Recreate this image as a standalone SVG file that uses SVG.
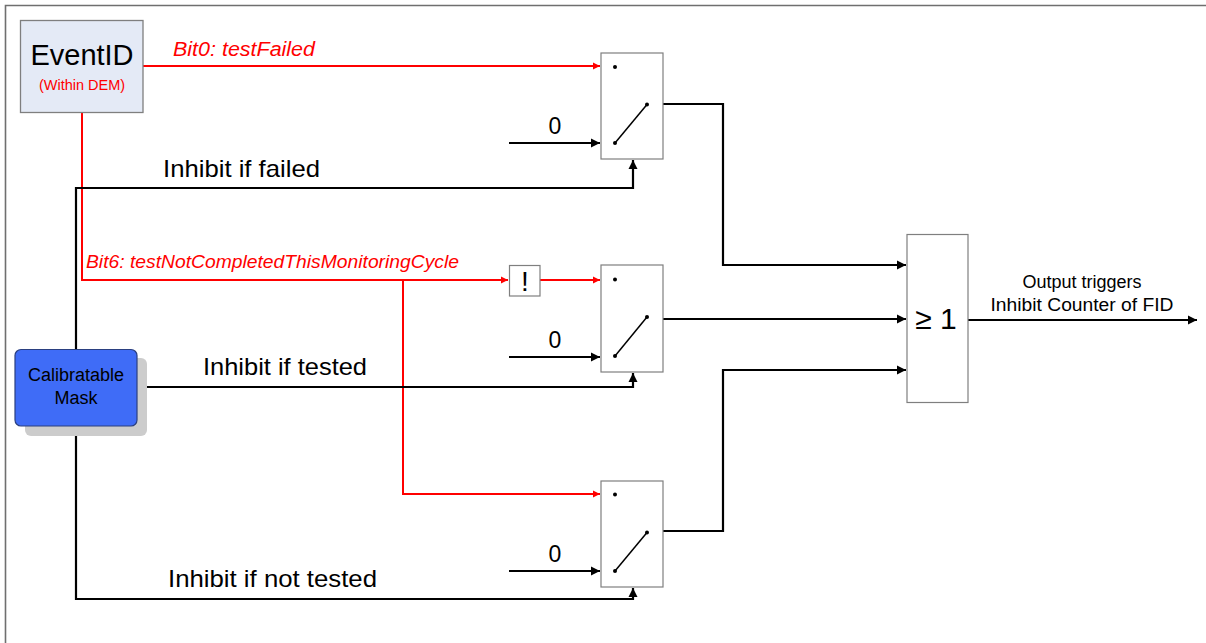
<svg xmlns="http://www.w3.org/2000/svg" width="1206" height="643" viewBox="0 0 1206 643">
<style>
text{font-family:"Liberation Sans",Arial,sans-serif;}
.blk{fill:none;stroke:#000;stroke-width:2.2;}
.red{fill:none;stroke:#ff0000;stroke-width:2;}
.box{fill:#fff;stroke:#7f7f7f;stroke-width:1.2;}
.sw{stroke:#000;stroke-width:1.5;}
.lbl{font-size:24px;fill:#000;}
.rl{font-size:18.5px;fill:#ff0000;font-style:italic;}
.zero{font-size:23px;fill:#000;text-anchor:middle;}
</style>
<defs>
<marker id="ab" markerUnits="userSpaceOnUse" markerWidth="10" markerHeight="10" refX="9" refY="5" orient="auto">
<path d="M0,0.5 L9,5 L0,9.5 z" fill="#000"/>
</marker>
<marker id="ar" markerUnits="userSpaceOnUse" markerWidth="8" markerHeight="8" refX="7" refY="4" orient="auto">
<path d="M0,0.5 L7,4 L0,7.5 z" fill="#ff0000"/>
</marker>
</defs>
<rect width="1206" height="643" fill="#fff"/>
<path d="M5.5,643 V5.5 H1206" fill="none" stroke="#6f6f6f" stroke-width="1.6"/>

<g id="connectors">
<path class="red" d="M143,66 H600" marker-end="url(#ar)"/>
<path class="red" d="M82,113 V280 H508" marker-end="url(#ar)"/>
<path class="red" d="M540,280 H600" marker-end="url(#ar)"/>
<path class="red" d="M403,280 V494 H600" marker-end="url(#ar)"/>
<path class="blk" d="M76,349 V188 H633 V160" marker-end="url(#ab)"/>
<path class="blk" d="M137,387 H633 V373" marker-end="url(#ab)"/>
<path class="blk" d="M76,426 V599 H633 V588" marker-end="url(#ab)"/>
<path class="blk" d="M509,143 H600" marker-end="url(#ab)"/>
<path class="blk" d="M509,357 H600" marker-end="url(#ab)"/>
<path class="blk" d="M509,571 H600" marker-end="url(#ab)"/>
<path class="blk" d="M663,104 H723 V265 H906" marker-end="url(#ab)"/>
<path class="blk" d="M663,319 H906" marker-end="url(#ab)"/>
<path class="blk" d="M663,531 H723 V370 H906" marker-end="url(#ab)"/>
<path class="blk" d="M968,320 H1197" marker-end="url(#ab)"/>
</g>

<g id="labels">
<text class="rl" x="173" y="56" font-size="20" style="font-size:20px" textLength="142" lengthAdjust="spacingAndGlyphs">Bit0: testFailed</text>
<text class="rl" x="86" y="268" textLength="373" lengthAdjust="spacingAndGlyphs">Bit6: testNotCompletedThisMonitoringCycle</text>
<text class="lbl" x="163" y="177" textLength="157" lengthAdjust="spacingAndGlyphs">Inhibit if failed</text>
<text class="lbl" x="203" y="375" textLength="164" lengthAdjust="spacingAndGlyphs">Inhibit if tested</text>
<text class="lbl" x="168" y="587" textLength="209" lengthAdjust="spacingAndGlyphs">Inhibit if not tested</text>
<text class="zero" x="555" y="134">0</text>
<text class="zero" x="555" y="348">0</text>
<text class="zero" x="555" y="562">0</text>
<text x="1082" y="288" font-size="18" text-anchor="middle">Output triggers</text>
<text x="1082" y="311" font-size="18" text-anchor="middle" textLength="183" lengthAdjust="spacingAndGlyphs">Inhibit Counter of FID</text>
</g>

<g id="eventid">
<rect x="20.5" y="20.5" width="122.5" height="92" fill="#e4eaf6" stroke="#7f7f7f" stroke-width="1.3"/>
<text x="82" y="65" font-size="29" text-anchor="middle">EventID</text>
<text x="82" y="90" font-size="14.5" fill="#ff0000" text-anchor="middle">(Within DEM)</text>
</g>

<g id="mask">
<rect x="25" y="358" width="122" height="78" rx="6" fill="#cccccc"/>
<rect x="15" y="349.5" width="122" height="76.5" rx="6" fill="#3f6cf7" stroke="#2a3f80" stroke-width="1.2"/>
<text x="76" y="381" font-size="18" text-anchor="middle">Calibratable</text>
<text x="76" y="404" font-size="18" text-anchor="middle">Mask</text>
</g>

<g id="switch1">
<rect class="box" x="601" y="53" width="62" height="106"/>
<circle cx="615" cy="67" r="2"/>
<circle cx="615" cy="143" r="2"/>
<circle cx="647" cy="104.5" r="2"/>
<line class="sw" x1="615" y1="143" x2="647" y2="104.5"/>
</g>

<g id="not">
<rect class="box" x="509.5" y="265.5" width="30.5" height="30.5"/>
<text x="525" y="291" font-size="28" text-anchor="middle">!</text>
</g>

<g id="switch2">
<rect class="box" x="601" y="265" width="62" height="107"/>
<circle cx="615" cy="279.5" r="2"/>
<circle cx="615" cy="356" r="2"/>
<circle cx="647" cy="317" r="2"/>
<line class="sw" x1="615" y1="356" x2="647" y2="317"/>
</g>

<g id="switch3">
<rect class="box" x="601" y="481" width="62" height="106"/>
<circle cx="615" cy="494.5" r="2"/>
<circle cx="615" cy="571" r="2"/>
<circle cx="647" cy="532.5" r="2"/>
<line class="sw" x1="615" y1="571" x2="647" y2="532.5"/>
</g>

<g id="or">
<rect class="box" x="907" y="234.5" width="61" height="168"/>
<text x="936" y="329" font-size="30" text-anchor="middle">≥ 1</text>
</g>
</svg>
